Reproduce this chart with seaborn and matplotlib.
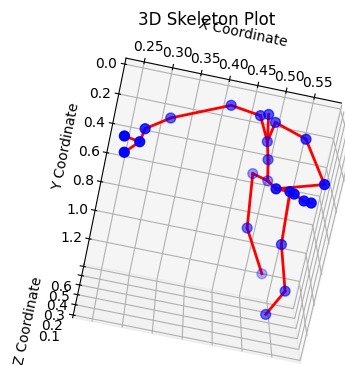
import numpy as np
import seaborn as sns
import matplotlib.pyplot as plt

# joint positions
joint_x = [0.407, 0.457, 0.470, 0.484, 0.480, 0.488, 0.535, 0.573, 0.474, 0.500,
           0.498, 0.521, 0.527, 0.545, 0.556, 0.312, 0.272, 0.241, 0.267, 0.246,
           0.477, 0.529, 0.535, 0.559, 0.536]
joint_y = [0.048, 0.053, 0.035, 0.076, 0.230, 0.344, 0.097, 0.281, 0.528, 0.530,
           0.368, 0.368, 0.362, 0.392, 0.385, 0.207, 0.214, 0.212, 0.252, 0.310,
           0.785, 1.185, 0.790, 1.085, 1.262]
joint_z = [0.45, 0.40, 0.40, 0.40, 0.45, 0.45, 0.30, 0.15, 0.60, 0.55,
           0.15, 0.15, 0.12, 0.12, 0.10, 0.45, 0.25, 0.10, 0.15, 0.10,
           0.40, 0.60, 0.30, 0.30, 0.30]

bones = [(0, 1), (1, 4), (2, 4), (3, 4), (3, 6), (6, 7), (7, 10), (4, 5),
         (5, 9), (9, 8), (9, 10), (10, 11), (11, 12), (12, 13), (13, 14),
         (8, 20), (20, 21), (11, 22), (22, 23), (23, 24), (0, 15), (15, 16),
         (16, 18), (18, 17), (18, 19)]

blue, red = sns.color_palette(["blue", "red"])

fig = plt.figure(figsize=(3.45, 3.65), dpi=100)
ax = fig.add_subplot(projection='3d')
ax.set_position([0.0986, -0.0525, 1.0, 0.945])

ax.scatter(joint_x, joint_y, joint_z, color=blue, s=50)
for a, b in bones:
    ax.plot([joint_x[a], joint_x[b]], [joint_y[a], joint_y[b]],
            [joint_z[a], joint_z[b]], color=red, linewidth=2)

ax.set_xlim(0.218, 0.598)
ax.set_ylim(-0.04, 1.38)
ax.set_zlim(0.075, 0.625)
ax.set_box_aspect(None, zoom=1.02)

ax.set_title('3D Skeleton Plot', pad=10)
ax.set_xlabel('X Coordinate')
ax.set_ylabel('Y Coordinate')
ax.set_zlabel('Z Coordinate')
ax.view_init(elev=-74, azim=-102)

fig.savefig('out.png', dpi=100)
